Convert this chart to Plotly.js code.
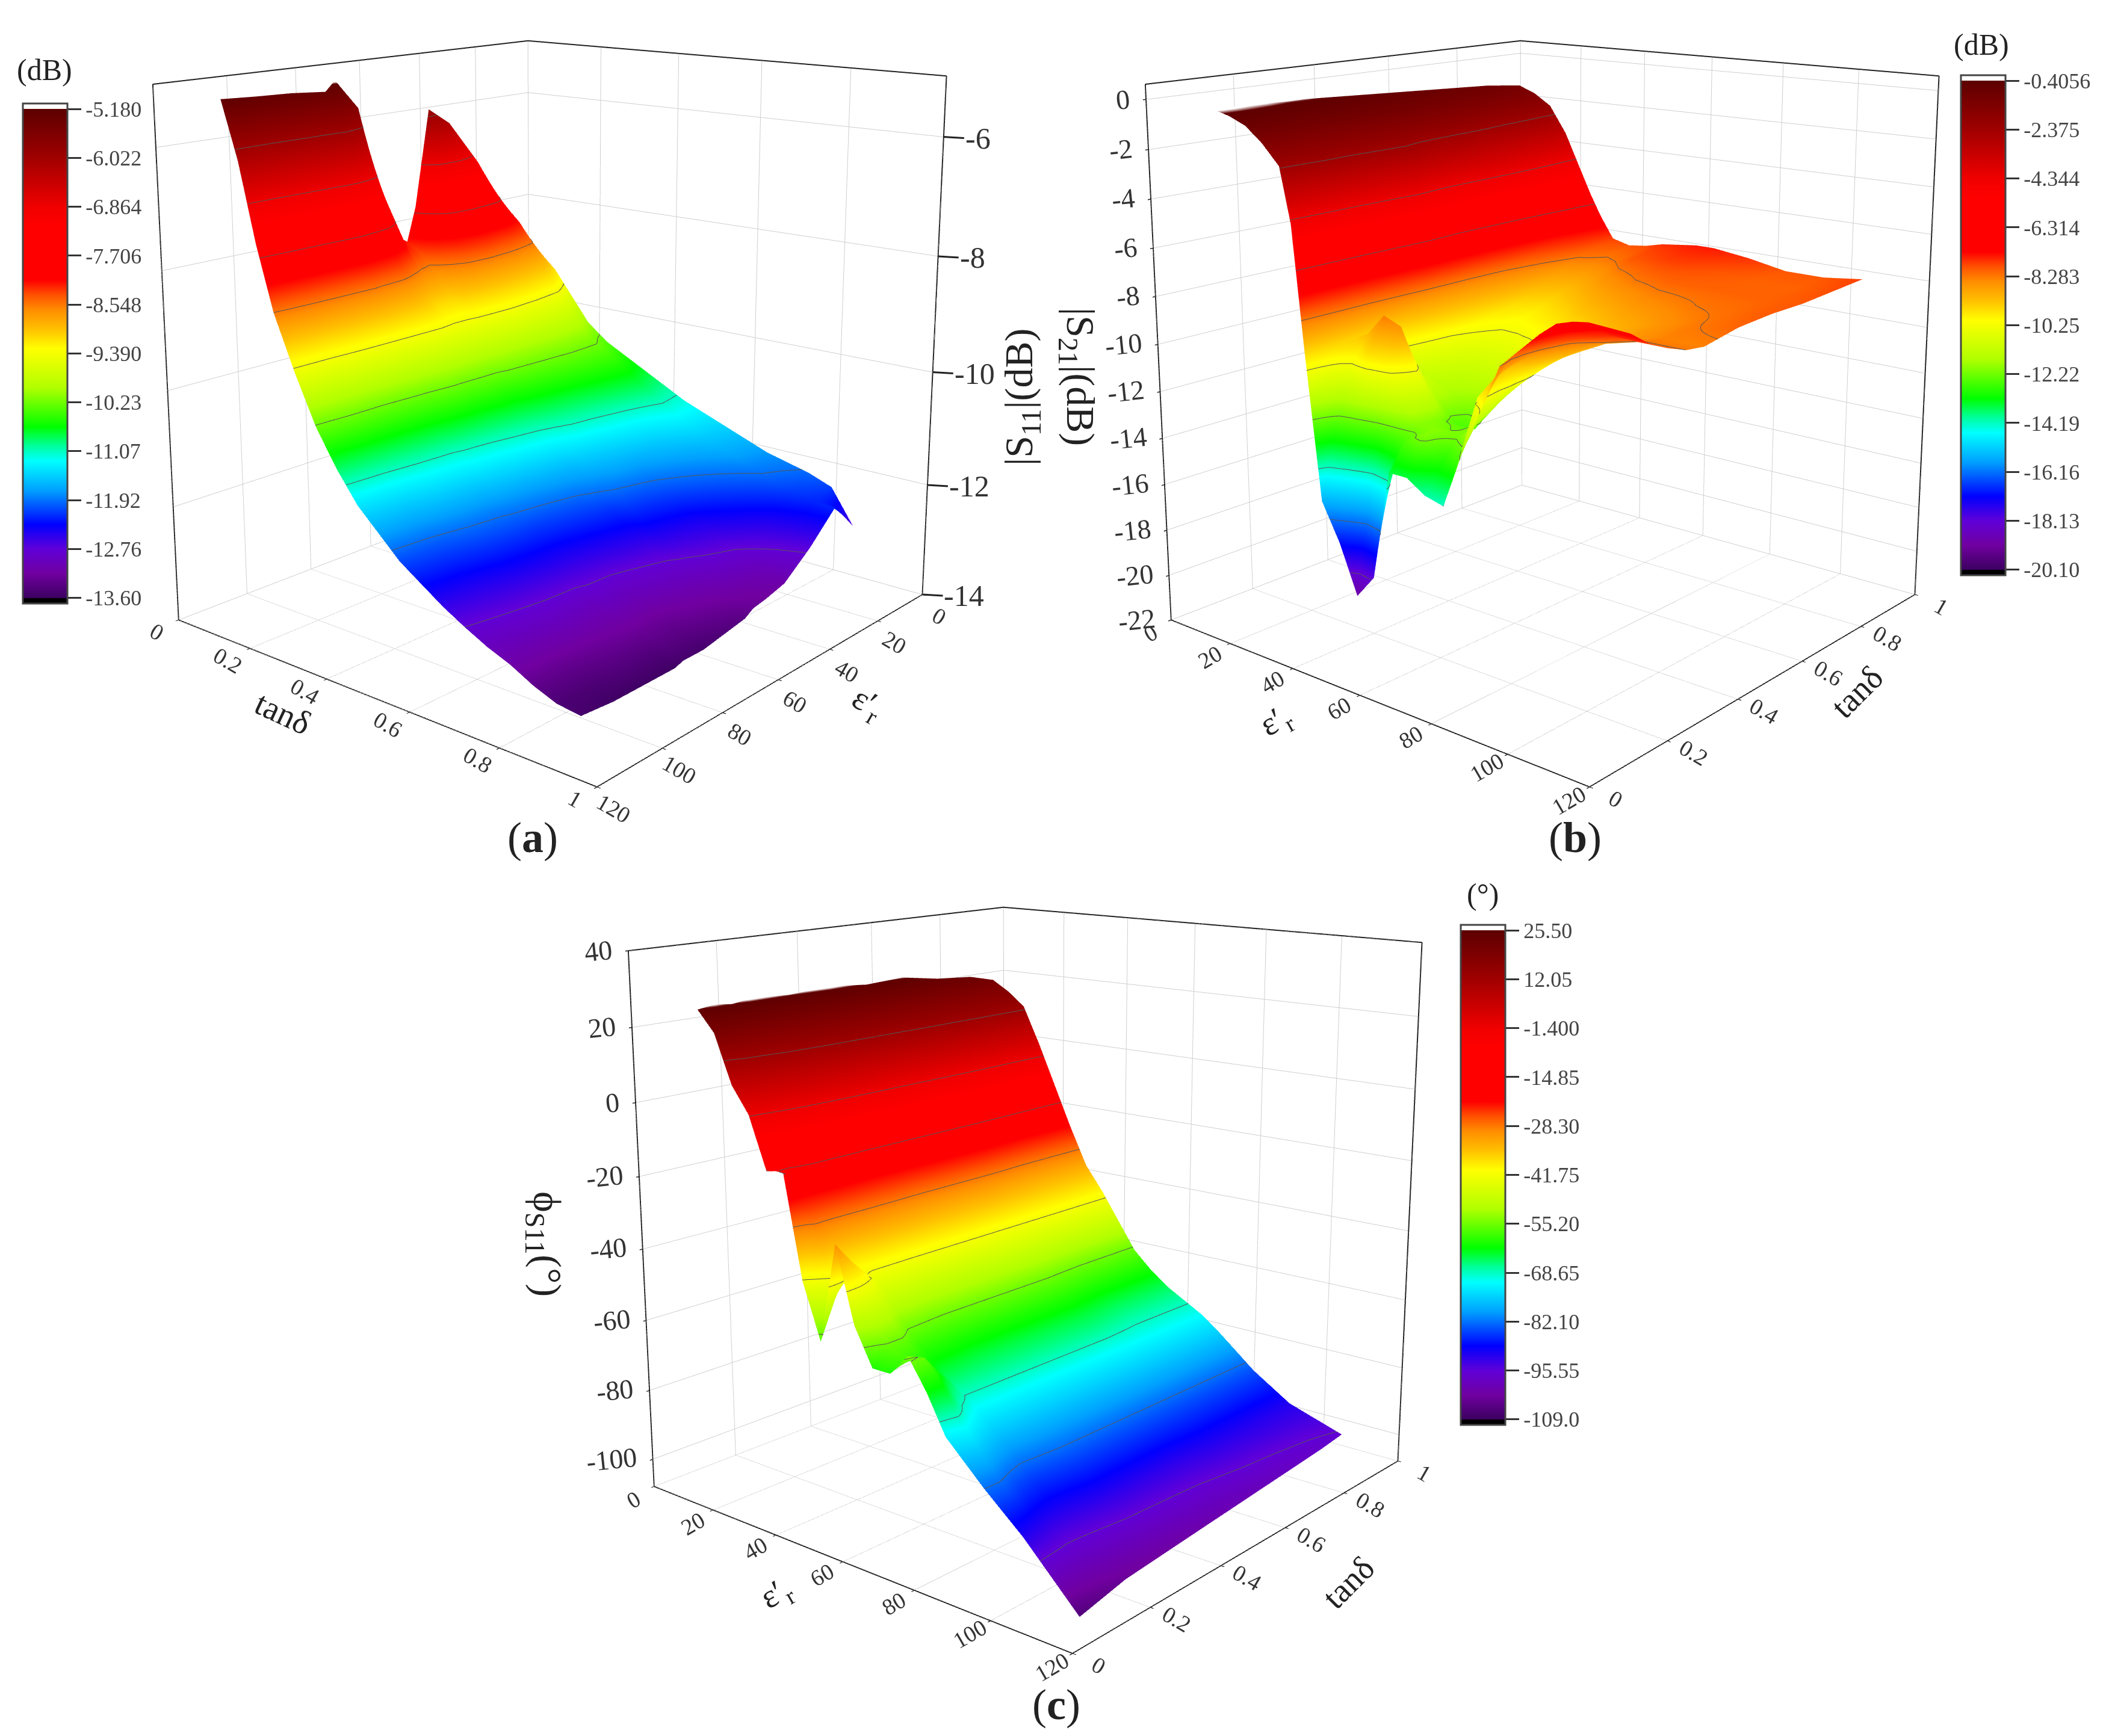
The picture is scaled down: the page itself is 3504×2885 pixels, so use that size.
<!DOCTYPE html>
<html><head><meta charset="utf-8">
<script src="https://cdn.plot.ly/plotly-3.0.1.min.js"></script>
<style>html,body{margin:0;padding:0;width:3504px;height:2885px;overflow:hidden;background:#fff}
#plot{position:absolute;left:0;top:-900px;width:3504px;height:4130px}</style>
</head><body><div id="plot"></div>
<script>
// ---------- data ----------
const tanA=[.08,.12,.16,.2,.25,.3,.35,.4,.45,.5,.55,.6,.65,.7,.75,.8,.85,.9];
const epsA=[12,20,30,40,47,52,55,60,65,70,77,80,90,100,110];
const s11=[
[-8.85,-8.0,-7.0,-6.2,-5.9,-7.6,-8.2,-8.0,-7.0,-5.7,-5.18,-5.35,-5.3,-5.28,-5.25],
[-8.95,-8.2,-7.5,-7.2,-7.3,-8.0,-8.4,-8.2,-7.5,-6.8,-6.3,-6.3,-6.3,-6.3,-6.2],
[-9.15,-8.6,-8.3,-8.1,-8.2,-8.5,-8.7,-8.6,-8.3,-7.9,-7.6,-7.5,-7.5,-7.5,-7.5],
[-9.55,-9.1,-8.9,-8.8,-8.8,-8.9,-9.1,-9.1,-8.9,-8.7,-8.6,-8.5,-8.5,-8.5,-8.55],
[-10.05,-9.7,-9.55,-9.45,-9.45,-9.45,-9.45,-9.45,-9.4,-9.4,-9.4,-9.4,-9.4,-9.45,-9.45],
[-10.35,-10.1,-10.05,-10.05,-10.05,-10.05,-10.1,-10.1,-10.1,-10.1,-10.15,-10.15,-10.2,-10.2,-10.25],
[-10.55,-10.35,-10.35,-10.4,-10.45,-10.5,-10.55,-10.55,-10.6,-10.6,-10.65,-10.7,-10.75,-10.8,-10.85],
[-10.75,-10.6,-10.65,-10.75,-10.8,-10.85,-10.9,-10.95,-11.0,-11.05,-11.1,-11.15,-11.2,-11.3,-11.35],
[-10.95,-10.85,-10.95,-11.05,-11.1,-11.2,-11.25,-11.3,-11.35,-11.4,-11.45,-11.5,-11.55,-11.65,-11.7],
[-11.15,-11.1,-11.25,-11.35,-11.45,-11.5,-11.6,-11.65,-11.7,-11.75,-11.8,-11.85,-11.9,-12.0,-12.05],
[-11.3,-11.3,-11.5,-11.65,-11.7,-11.8,-11.85,-11.95,-12,-12.05,-12.1,-12.1,-12.15,-12.25,-12.3],
[-11.45,-11.5,-11.7,-11.9,-12,-12.05,-12.15,-12.2,-12.25,-12.3,-12.35,-12.35,-12.4,-12.5,-12.55],
[-11.6,-11.65,-11.9,-12.15,-12.25,-12.3,-12.4,-12.45,-12.5,-12.55,-12.6,-12.6,-12.65,-12.7,-12.76],
[-11.75,-11.8,-12.1,-12.4,-12.5,-12.55,-12.65,-12.7,-12.75,-12.8,-12.8,-12.85,-12.85,-12.9,-12.95],
[-11.85,-11.95,-12.3,-12.6,-12.7,-12.8,-12.85,-12.9,-12.95,-13,-13,-13.05,-13.05,-13.1,-13.1],
[-11.95,-12.1,-12.5,-12.8,-12.9,-13,-13.05,-13.1,-13.15,-13.2,-13.2,-13.2,-13.25,-13.3,-13.3],
[-12.1,-12.2,-12.6,-13,-13.1,-13.15,-13.2,-13.25,-13.3,-13.35,-13.35,-13.4,-13.4,-13.45,-13.45],
[-12.7,-12.2,-12.7,-13.1,-13.2,-13.25,-13.35,-13.4,-13.45,-13.5,-13.5,-13.55,-13.55,-13.55,-13.5]];

const tanB=[.08,.12,.16,.2,.25,.3,.35,.4,.5,.6,.7,.8,.9];
const epsB=[10,15,20,25,30,33,36,40,45,50,55,60,65,70,75,80,90,100,110];
const s21=[
[-.42,-.6,-.9,-1.5,-2.3,-4.5,-9.5,-15.5,-17,-19,-18,-13.5,-13.5,-14,-14.2,-12,-8.3,-6.8,-6.4],
[-.42,-.6,-.9,-1.5,-2.4,-4.5,-9.5,-12.5,-13.5,-14.5,-13.5,-12.5,-12,-13,-12.5,-10,-8,-6.6,-6.5],
[-.45,-.6,-.9,-1.5,-2.4,-4.6,-9.5,-10.3,-9.6,-10,-11,-12,-12,-12.2,-11.5,-9.5,-8,-6.7,-6.7],
[-.45,-.65,-.95,-1.55,-2.4,-4.7,-9.5,-9.2,-8.3,-8.6,-10.5,-12,-12.3,-12,-11,-9.2,-8.1,-6.9,-7],
[-.5,-.7,-1,-1.6,-2.5,-4.8,-9.5,-10.8,-10.5,-11,-11.8,-12.5,-12.5,-11.5,-10.5,-9.5,-8.2,-7.6,-7.6],
[-.5,-.7,-1,-1.6,-2.5,-4.8,-9.3,-10.7,-11.2,-11.5,-11.8,-12,-11.8,-11,-10.3,-9.6,-8.5,-8,-8],
[-.55,-.75,-1.05,-1.65,-2.5,-4.7,-9,-10.5,-11,-11.3,-11.4,-11.4,-11,-10.5,-10,-9.5,-8.7,-8.3,-8.3],
[-.6,-.8,-1.1,-1.7,-2.5,-4.6,-8.8,-10.3,-10.8,-11,-11,-10.8,-10.4,-10,-9.7,-9.3,-8.7,-8.4,-8.4],
[-.7,-.9,-1.2,-1.8,-3.4,-5.9,-8.6,-10,-10.3,-10.3,-10.2,-10,-9.8,-9.5,-9.2,-9,-8.6,-8.3,-8.1],
[-.8,-1,-1.4,-2.1,-3.8,-6,-8.3,-9.6,-9.9,-9.7,-9.5,-9.2,-9,-8.8,-8.6,-8.5,-8.3,-8.2,-8],
[-.9,-1.1,-1.5,-2.5,-4.2,-6,-7.8,-9,-9.2,-9,-8.7,-8.5,-8.3,-8.2,-8.1,-8.1,-8.1,-8.1,-8],
[-1,-1.2,-1.7,-2.8,-4.5,-5.9,-7.2,-8.2,-8.4,-8.3,-8,-7.9,-7.8,-7.8,-7.9,-8,-8.1,-8.1,-7.9],
[-1.2,-1.5,-2,-3.2,-4.9,-5.9,-6.8,-7.8,-8,-7.9,-7.7,-7.6,-7.5,-7.5,-7.6,-7.7,-8,-8,-7.8]];

const tanC=[.08,.12,.16,.2,.3,.4,.5,.6,.7,.8,.87];
const epsC=[10,15,20,25,30,35,40,45,50,55,60,65,70,75,80,90,100,114];
const phi=[
[24.5,19,6,-1,-15,-14,-42,-57,-30,-50,-60,-60,-54,-62,-72,-82,-91,-106],
[25.2,19,10,0,-12,-20,-30,-46,-36,-48,-56,-58,-56,-62,-70,-82,-92,-105],
[24.6,19,11,1,-9,-20,-31,-40,-41,-50,-56,-60,-62,-68,-73,-84,-93,-104],
[25.3,19,12,2,-9,-20,-31,-40,-47,-54,-59,-63,-67,-71,-75,-85,-93,-103],
[24.8,19,13,3,-9,-21,-31,-40,-48,-55,-60,-64,-67,-71,-75,-84,-92,-102],
[25.5,19,13,3,-9,-21,-32,-40,-48,-55,-60,-64,-67,-71,-75,-84,-92,-101],
[24.4,19,13,3,-9,-21,-32,-40,-48,-55,-60,-64,-67,-71,-75,-84,-92,-100],
[24.9,18.5,13,3,-9,-21,-32,-40,-48,-55,-60,-64,-67,-71,-75,-84,-91,-99],
[23,18,13,3,-9,-22,-33,-40,-48,-56,-61,-65,-68,-71,-75,-84,-91,-98],
[22,17.5,13,2,-10,-22,-33,-40,-48,-56,-61,-65,-68,-71,-75,-84,-91,-97],
[20,17,13,2,-10,-22,-33,-40,-48,-56,-61,-65,-68,-71,-75,-84,-91,-96]];

const barA=[-5.18,-6.022,-6.864,-7.706,-8.548,-9.39,-10.23,-11.07,-11.92,-12.76,-13.6];
const barAText=['-5.180','-6.022','-6.864','-7.706','-8.548','-9.390','-10.23','-11.07','-11.92','-12.76','-13.60'];
const barB=[-.4056,-2.375,-4.344,-6.314,-8.283,-10.25,-12.22,-14.19,-16.16,-18.13,-20.1];
const barBText=['-0.4056','-2.375','-4.344','-6.314','-8.283','-10.25','-12.22','-14.19','-16.16','-18.13','-20.10'];
const barC=[25.5,12.05,-1.4,-14.85,-28.3,-41.75,-55.2,-68.65,-82.1,-95.55,-109];
const barCText=['25.50','12.05','-1.400','-14.85','-28.30','-41.75','-55.20','-68.65','-82.10','-95.55','-109.0'];
const epsTicks=[0,20,40,60,80,100,120];
const tanTicks=[0,.2,.4,.6,.8,1];
const zTicksA=[-6,-8,-10,-12,-14];
const zTicksB=[0,-2,-4,-6,-8,-10,-12,-14,-16,-18,-20,-22];
const zTicksC=[40,20,0,-20,-40,-60,-80,-100];

// colours of the bar, from top (f=0) to bottom (f=1)
const barStops=[[0,'#5c0000'],[.1,'#a00000'],[.2,'#f00000'],[.24,'#ff0000'],[.35,'#ff0000'],[.38,'#ff5000'],[.41,'#ff8c00'],[.45,'#ffc000'],[.49,'#ffff00'],[.57,'#b0ff00'],[.65,'#00ff00'],[.69,'#00ffa0'],[.72,'#00ffff'],[.78,'#00a0ff'],[.85,'#0000ff'],[.9,'#6000d8'],[.95,'#7000a0'],[1,'#3c0060']];
const EDGE=.011;
const scale=[[0,'#000'],[EDGE,'#000']];
barStops.slice().reverse().forEach(s=>scale.push([EDGE+(1-s[0])*(1-2*EDGE),s[1]]));
scale.push([1-EDGE,'#fff'],[1,'#fff']);
scale.sort((a,b)=>a[0]-b[0]);

// ---------- page helpers ----------
const W=3504,H=4130,OFF=900;
const PX=x=>x/W, PY=y=>1-(y+OFF)/H;
const SCENE_H=2600;
const dom=(cx,hw,cy)=>({x:[PX(Math.max(0,cx-hw)),PX(Math.min(W,cx+hw))],y:[PY(cy+SCENE_H/2),PY(cy-SCENE_H/2)]});
const SERIF='Liberation Serif';
function axis(range,dtick){return {range:range,dtick:dtick,title:{text:''},showbackground:false,showspikes:false,showticklabels:false,
 gridcolor:'#cfcfcf',gridwidth:2,linecolor:'#222',linewidth:4,mirror:true,zeroline:false,ticks:'outside',ticklen:5,tickwidth:3,tickcolor:'#222'};}
function sceneOf(dm,eye,cz,zr,zd){return {domain:dm,aspectmode:'manual',aspectratio:{x:1,y:1,z:1},
 camera:{eye:eye,center:{x:0,y:0,z:cz},up:{x:0,y:0,z:1},projection:{type:'perspective'}},
 xaxis:axis([0,120],20),yaxis:axis([0,1],.2),zaxis:axis(zr,zd)};}
function surf(x,y,z,sc,vals,txt,barX,barY,step,lo,hi){return {type:'surface',scene:sc,x:x,y:y,z:z,colorscale:scale,
 cmin:lo-(hi-lo)*EDGE/(1-2*EDGE),cmax:hi+(hi-lo)*EDGE/(1-2*EDGE),
 lighting:{ambient:1,diffuse:0,specular:0,roughness:1,fresnel:0},hoverinfo:'skip',
 contours:{x:{show:false},y:{show:false},z:{show:true,start:lo+step,end:hi-step/2,size:step,color:'#555',width:3,usecolormap:false}},
 colorbar:{x:PX(barX),xanchor:'left',y:PY(barY),yanchor:'top',len:831,lenmode:'pixels',thickness:74,thicknessmode:'pixels',xpad:0,ypad:0,
  tickmode:'array',tickvals:vals,ticktext:txt,ticks:'outside',ticklen:22,tickwidth:3,tickcolor:'#333',outlinecolor:'#444',outlinewidth:3,borderwidth:0,
  tickfont:{family:SERIF,size:36,color:'#444'}}};}
const ann=(t,x,y,size,angle)=>({text:t,x:PX(x),y:PY(y),xref:'paper',yref:'paper',showarrow:false,xanchor:'center',yanchor:'middle',textangle:angle||0,font:{family:SERIF,size:size,color:'#222'}});
const lab=(x,y,z,t,dx,dy,ang,size,anchor)=>({x:x,y:y,z:z,text:String(t),showarrow:false,xshift:dx,yshift:-dy,textangle:ang,xanchor:anchor||'center',yanchor:'middle',font:{family:SERIF,size:size,color:'#333'}});

const data=[
 surf(epsA,tanA,s11,'scene',barA,barAText,38,172,.842,-13.6,-5.18),
 surf(epsB,tanB,s21,'scene2',barB,barBText,3258,125,1.9694,-20.1,-.4056),
 surf(epsC,tanC,phi,'scene3',barC,barCText,2427,1537,13.45,-109,25.5)];
const EYE_H=3.35, EYE_Z=.9, CZ=.126, s50=Math.sin(50*Math.PI/180), c50=Math.cos(50*Math.PI/180);
const sceneA=sceneOf(dom(925,925,474),{x:EYE_H*s50,y:EYE_H*c50,z:EYE_Z},CZ,[-14,-5],2);
sceneA.zaxis.ticks='';
sceneA.annotations=[
 ...zTicksA.map(v=>({x:0,y:1,z:v,text:String(v),showarrow:true,arrowhead:0,arrowwidth:3,arrowcolor:'#222',ax:34,ay:2,xanchor:'left',yanchor:'middle',font:{family:SERIF,size:50,color:'#333'}})),
 ...epsTicks.map(v=>lab(v,1,-14,v,28,36,30,38)),
 ...tanTicks.map(v=>lab(120,v,-14,v,-36,20,30,38))];
const sceneB=sceneOf(dom(2574,930,474),{x:EYE_H*c50,y:-EYE_H*s50,z:EYE_Z},CZ,[-22,.6],2);
sceneB.annotations=[
 ...zTicksB.map(v=>lab(0,0,v,v,-22,0,-6,46,'right')),
 ...epsTicks.map(v=>lab(v,0,-22,v,-34,22,-30,38)),
 ...tanTicks.map(v=>lab(120,v,-22,v,44,20,30,38))];
const sceneC=sceneOf(dom(1715,911,1914),{x:EYE_H*c50,y:-EYE_H*s50,z:EYE_Z},CZ,[-108,40],20);
sceneC.annotations=[
 ...zTicksC.map(v=>lab(0,0,v,v,-22,0,-6,46,'right')),
 ...epsTicks.map(v=>lab(v,0,-108,v,-34,22,-30,38)),
 ...tanTicks.map(v=>lab(120,v,-108,v,44,20,30,38))];
const layout={width:W,height:H,autosize:false,margin:{l:0,r:0,t:0,b:0,pad:0,autoexpand:false},paper_bgcolor:'rgba(0,0,0,0)',showlegend:false,
 scene:sceneA,scene2:sceneB,scene3:sceneC,
 annotations:[
  ann('(dB)',74,116,50),ann('(dB)',3292,74,50),ann('(°)',2463,1486,50),
  ann('(<b>a</b>)',885,1392,72),ann('(<b>b</b>)',2617,1392,72),ann('(<b>c</b>)',1755,2833,72),
  ann('|S<sub>11</sub>|(dB)',1698,660,66,-90),ann('|S<sub>21</sub>|(dB)',1790,626,66,90),ann('ϕ<sub>S11</sub>(°)',905,2067,66,90),
  ann('tanδ',470,1185,56,25),ann('ε′<sub>r</sub>',1440,1170,56,30),
  ann('ε′<sub>r</sub>',2120,1200,56,-30),ann('tanδ',3085,1150,56,-45),
  ann('ε′<sub>r</sub>',1290,2650,56,-30),ann('tanδ',2240,2630,56,-45)
 ]};
Plotly.newPlot('plot',data,layout,{displayModeBar:false,plotGlPixelRatio:1});
</script></body></html>
